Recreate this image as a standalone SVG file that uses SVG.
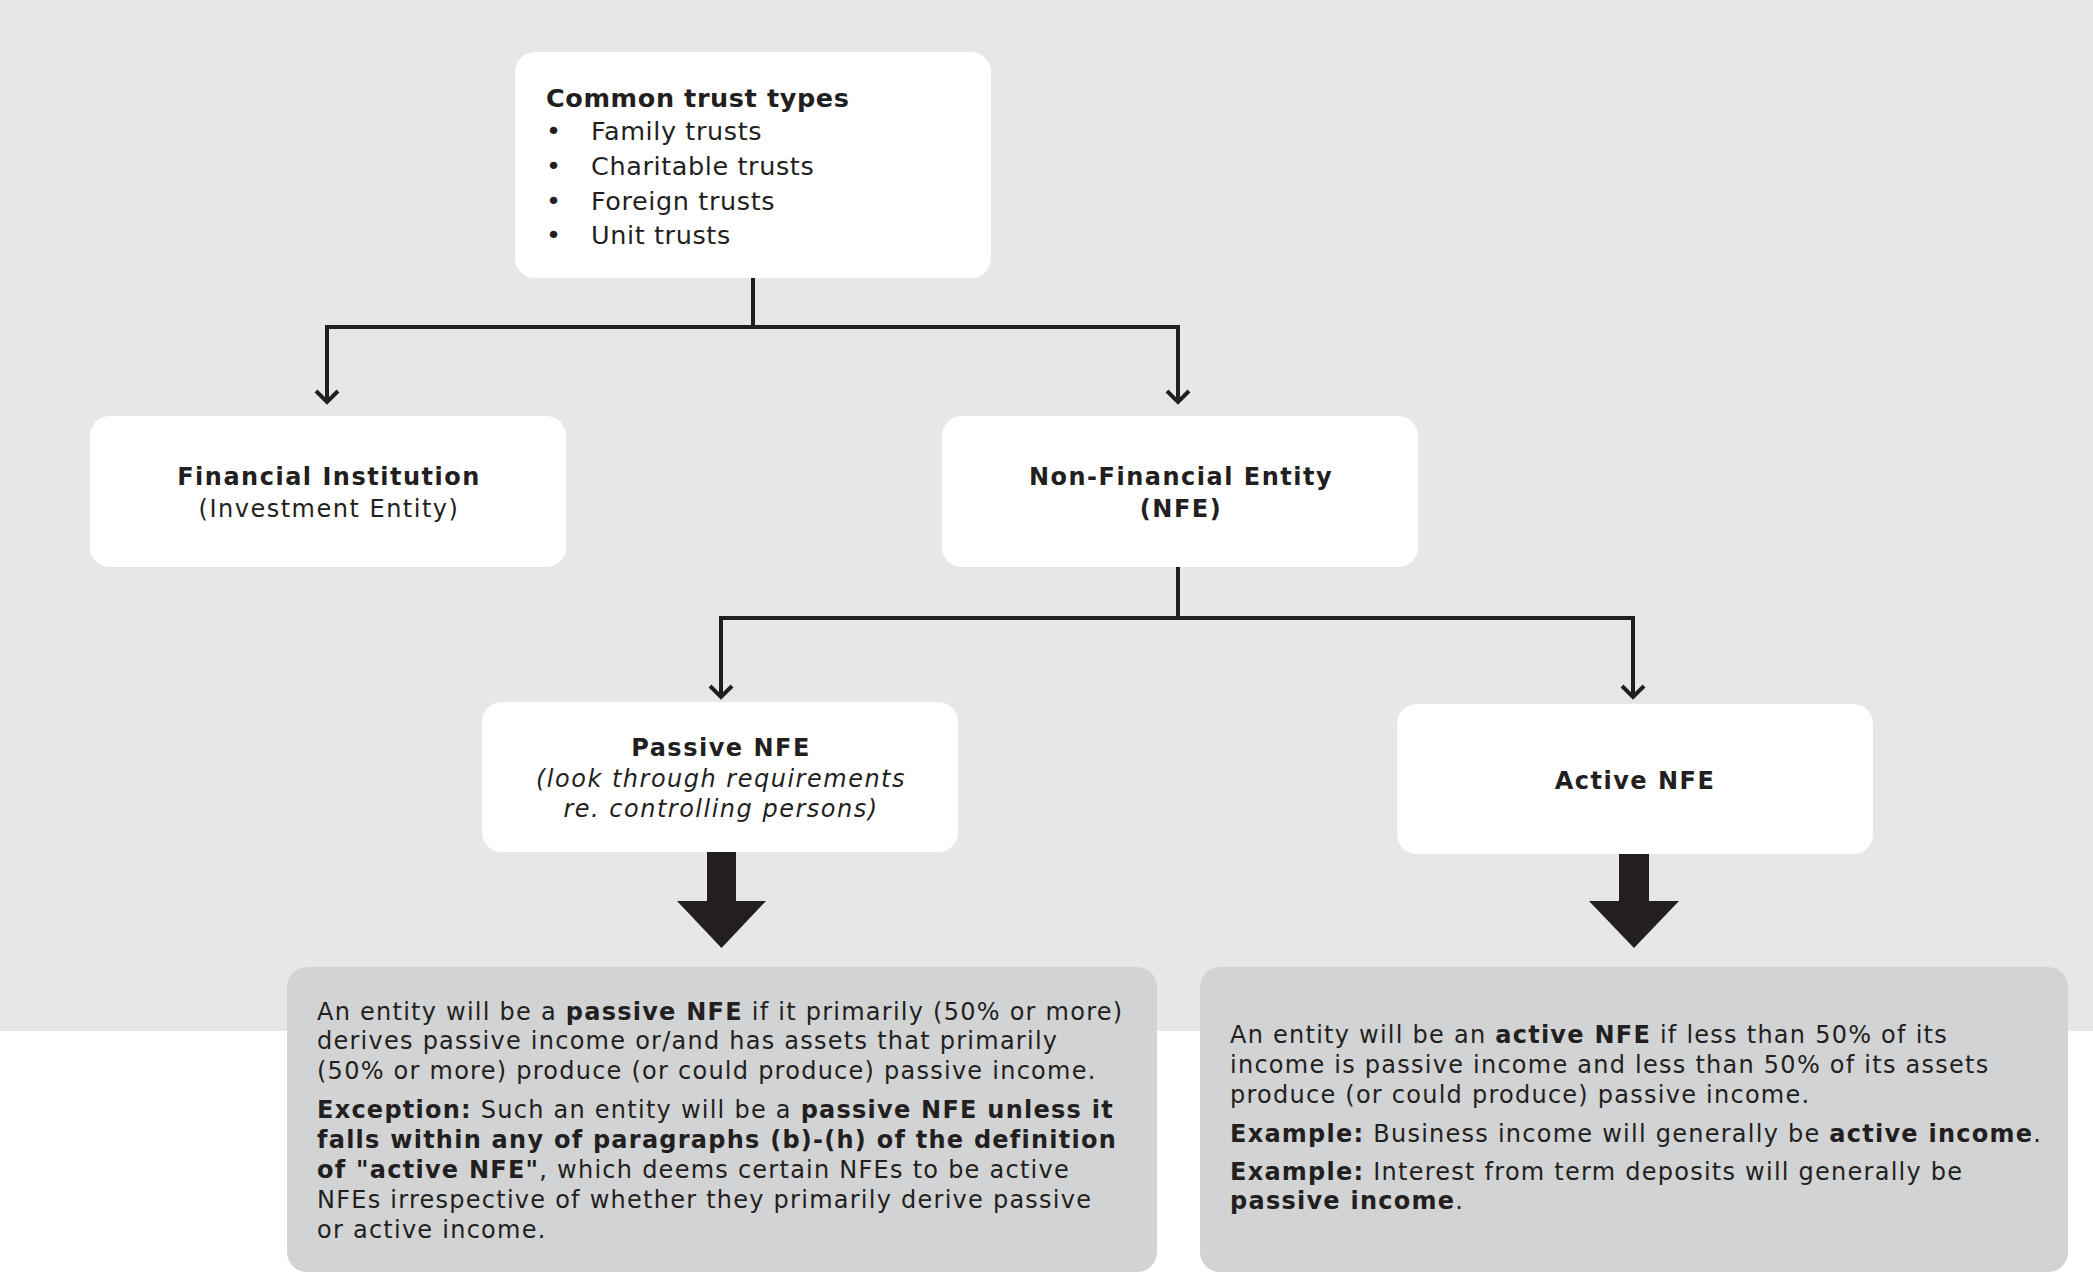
<svg xmlns="http://www.w3.org/2000/svg" width="2093" height="1274" viewBox="0 0 2093 1274">
<style>
text{font-family:"DejaVu Sans",Verdana,sans-serif;fill:#231f20;}
.b{font-weight:bold;}
.i{font-style:italic;}
.t{font-size:25.5px;letter-spacing:0.6px;}
.n{font-size:24px;letter-spacing:1.5px;}
.d{font-size:24px;letter-spacing:1.25px;}
.box{fill:#ffffff;}
.dbox{fill:#d1d3d4;}
.ln{fill:none;stroke:#231f20;stroke-width:4;}
.big{fill:#231f20;}
</style>
<rect x="0" y="0" width="2093" height="1031" fill="#e6e7e8"/>
<rect x="0" y="1031" width="2093" height="243" fill="#ffffff"/>

<g id="connectors">
  <polyline class="ln" points="753,278 753,327"/>
  <polyline class="ln" points="327,402 327,327 1178,327 1178,402"/>
  <polyline class="ln" points="316,391 327,402 338,391"/>
  <polyline class="ln" points="1167,391 1178,402 1189,391"/>
  <polyline class="ln" points="1178,567 1178,618"/>
  <polyline class="ln" points="721,697 721,618 1633,618 1633,697"/>
  <polyline class="ln" points="710,686 721,697 732,686"/>
  <polyline class="ln" points="1622,686 1633,697 1644,686"/>
  <polygon class="big" points="707,852 736,852 736,901 766,901 721.5,948 677,901 707,901"/>
  <polygon class="big" points="1619,854 1649,854 1649,901 1679,901 1634,948 1589,901 1619,901"/>
</g>

<g id="trust-types">
  <rect class="box" x="515" y="52" width="476" height="226" rx="20"/>
  <text class="t b" x="546" y="107">Common trust types</text>
  <text class="t" x="546" y="140">•</text><text class="t" x="591" y="140">Family trusts</text>
  <text class="t" x="546" y="175">•</text><text class="t" x="591" y="175">Charitable trusts</text>
  <text class="t" x="546" y="210">•</text><text class="t" x="591" y="210">Foreign trusts</text>
  <text class="t" x="546" y="244">•</text><text class="t" x="591" y="244">Unit trusts</text>
</g>

<g id="financial-institution">
  <rect class="box" x="90" y="416" width="476" height="151" rx="20"/>
  <text class="n b" x="329" y="485" text-anchor="middle">Financial Institution</text>
  <text class="n" x="329" y="517" text-anchor="middle">(Investment Entity)</text>
</g>

<g id="nfe">
  <rect class="box" x="942" y="416" width="476" height="151" rx="20"/>
  <text class="n b" x="1181" y="485" text-anchor="middle">Non-Financial Entity</text>
  <text class="n b" x="1181" y="517" text-anchor="middle">(NFE)</text>
</g>

<g id="passive-nfe">
  <rect class="box" x="482" y="702" width="476" height="150" rx="20"/>
  <text class="n b" x="721" y="756" text-anchor="middle">Passive NFE</text>
  <text class="n i" x="721" y="787" text-anchor="middle">(look through requirements</text>
  <text class="n i" x="721" y="817" text-anchor="middle">re. controlling persons)</text>
</g>

<g id="active-nfe">
  <rect class="box" x="1397" y="704" width="476" height="150" rx="20"/>
  <text class="n b" x="1635" y="789" text-anchor="middle">Active NFE</text>
</g>

<g id="passive-desc">
  <rect class="dbox" x="287" y="967" width="870" height="305" rx="20"/>
  <text class="d" x="317" y="1020">An entity will be a <tspan class="b">passive NFE</tspan> if it primarily (50% or more)</text>
  <text class="d" x="317" y="1049">derives passive income or/and has assets that primarily</text>
  <text class="d" x="317" y="1079">(50% or more) produce (or could produce) passive income.</text>
  <text class="d" x="317" y="1118"><tspan class="b">Exception:</tspan> Such an entity will be a <tspan class="b">passive NFE unless it</tspan></text>
  <text class="d b" x="317" y="1148">falls within any of paragraphs (b)-(h) of the definition</text>
  <text class="d" x="317" y="1178"><tspan class="b">of "active NFE"</tspan>, which deems certain NFEs to be active</text>
  <text class="d" x="317" y="1208">NFEs irrespective of whether they primarily derive passive</text>
  <text class="d" x="317" y="1238">or active income.</text>
</g>

<g id="active-desc">
  <rect class="dbox" x="1200" y="967" width="868" height="305" rx="20"/>
  <text class="d" x="1230" y="1043">An entity will be an <tspan class="b">active NFE</tspan> if less than 50% of its</text>
  <text class="d" x="1230" y="1073">income is passive income and less than 50% of its assets</text>
  <text class="d" x="1230" y="1103">produce (or could produce) passive income.</text>
  <text class="d" x="1230" y="1142"><tspan class="b">Example:</tspan> Business income will generally be <tspan class="b">active income</tspan>.</text>
  <text class="d" x="1230" y="1180"><tspan class="b">Example:</tspan> Interest from term deposits will generally be</text>
  <text class="d" x="1230" y="1209"><tspan class="b">passive income</tspan>.</text>
</g>
</svg>
